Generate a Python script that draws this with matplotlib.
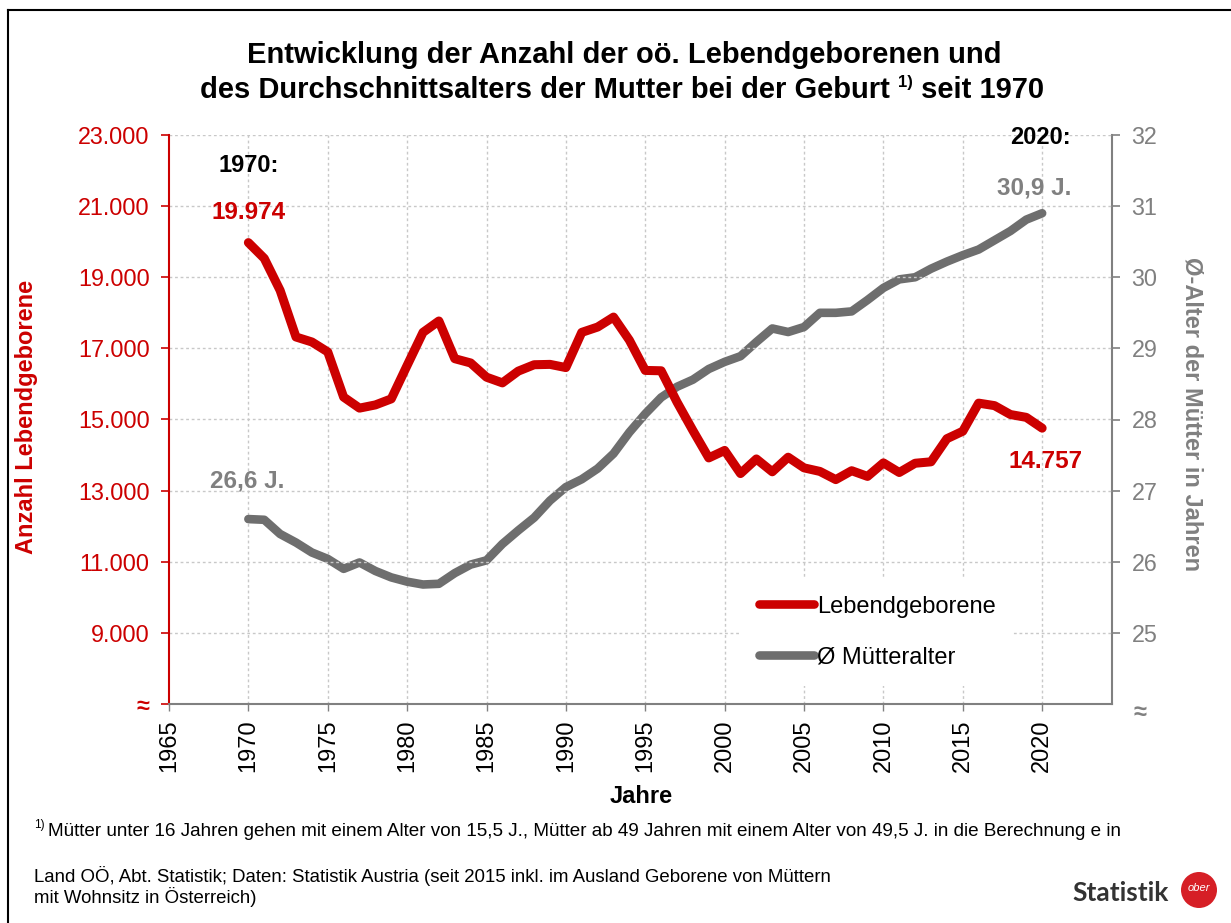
import matplotlib
matplotlib.use("Agg")
import matplotlib.pyplot as plt
from matplotlib.lines import Line2D
from matplotlib.patches import Ellipse
from matplotlib.ticker import FixedLocator, FixedFormatter

plt.rcParams['font.family'] = ['Liberation Sans', 'DejaVu Sans']

# ---------------- data ----------------
years = list(range(1970, 2021))
births = [19974, 19530, 18630, 17320, 17180, 16900, 15630, 15320, 15410, 15580,
          16520, 17450, 17770, 16710, 16590, 16190, 16030, 16360, 16540, 16550,
          16460, 17450, 17600, 17880, 17230, 16380, 16370, 15490, 14690, 13920,
          14130, 13480, 13890, 13530, 13940, 13640, 13540, 13310, 13560, 13400,
          13780, 13510, 13770, 13810, 14460, 14670, 15460, 15390, 15140, 15060,
          14757]
mother_age = [26.60, 26.59, 26.39, 26.27, 26.13, 26.04, 25.90, 25.99, 25.87, 25.78,
              25.72, 25.68, 25.69, 25.84, 25.96, 26.02, 26.25, 26.44, 26.62, 26.86,
              27.05, 27.16, 27.31, 27.52, 27.82, 28.08, 28.31, 28.46, 28.56, 28.71,
              28.81, 28.89, 29.09, 29.28, 29.23, 29.30, 29.50, 29.50, 29.52, 29.68,
              29.85, 29.97, 30.00, 30.12, 30.22, 30.31, 30.39, 30.52, 30.65, 30.81,
              30.90]
x_ticks = [1965, 1970, 1975, 1980, 1985, 1990, 1995, 2000, 2005, 2010, 2015, 2020]
left_ticks = [7000, 9000, 11000, 13000, 15000, 17000, 19000, 21000, 23000]
left_labels = ["≈", "9.000", "11.000", "13.000", "15.000", "17.000", "19.000", "21.000", "23.000"]
right_ticks = [25, 26, 27, 28, 29, 30, 31, 32]
right_labels = ["25", "26", "27", "28", "29", "30", "31", "32"]
series_names = ["Lebendgeborene", "Ø Mütteralter"]

RED = "#CC0000"
GRAY = "#6E6E6E"
LGRAY = "#808080"
W, H = 1231, 923

fig = plt.figure(figsize=(W / 100, H / 100), dpi=100)
fig.patch.set_facecolor("white")

def fx(px):
    return px / W

def fy(py):
    return 1 - py / H

ax = fig.add_axes([fx(169), fy(704), fx(1112) - fx(169), fy(135) - fy(704)])
ax2 = ax.twinx()

# lines
ln_gray, = ax2.plot(years, mother_age, color=GRAY, lw=6.2, solid_capstyle='round',
                    solid_joinstyle='round', label=series_names[1])
ln_red, = ax.plot(years, births, color=RED, lw=6.5, solid_capstyle='round',
                  solid_joinstyle='round', label=series_names[0])
ax.set_zorder(ax2.get_zorder() + 1)
ax.patch.set_visible(False)

ax.set_xlim(1965, 2024.4)
ax.set_ylim(7000, 23000)
ax2.set_ylim(24, 32)

# grid (drawn on ax2 so it stays underneath)
for xv in x_ticks[1:]:
    ax2.axvline(xv, color="#C8C8C8", lw=1.0, ls=(0, (2, 2)), zorder=0)
for yv in left_ticks[1:]:
    ax.axhline(yv, color="#C8C8C8", lw=1.0, ls=(0, (2, 2)), zorder=0)

# ticks
ax.xaxis.set_major_locator(FixedLocator(x_ticks))
ax.set_xticklabels([str(v) for v in x_ticks], rotation=90, fontsize=17)
ax.tick_params(axis='x', colors='black', length=5, width=1, color=LGRAY, pad=6)

ax.yaxis.set_major_locator(FixedLocator(left_ticks))
ax.yaxis.set_major_formatter(FixedFormatter(left_labels))
ax.tick_params(axis='y', colors=RED, labelsize=16.8, length=6, width=1.2, pad=8)
for lab in ax.get_yticklabels():
    if lab.get_text() == "≈":
        lab.set_fontweight('bold')

ax2.yaxis.set_major_locator(FixedLocator(right_ticks))
ax2.yaxis.set_major_formatter(FixedFormatter(right_labels))
ax2.tick_params(axis='y', colors=LGRAY, labelsize=16.8, length=6, width=1.2, pad=8)

for a in (ax, ax2):
    a.spines['top'].set_visible(False)
ax.spines['right'].set_visible(False)
ax2.spines['left'].set_visible(False)
ax.spines['left'].set_color(RED)
ax.spines['left'].set_linewidth(1.5)
ax2.spines['right'].set_color(LGRAY)
ax2.spines['right'].set_linewidth(1.5)
ax.spines['bottom'].set_color(LGRAY)
ax.spines['bottom'].set_linewidth(1.5)
ax2.spines['bottom'].set_visible(False)

# axis labels
ax.set_ylabel("Anzahl Lebendgeborene", color=RED, fontsize=17, fontweight='bold')
ax.yaxis.set_label_coords((38 - 169) / 943, 0.505)
ax2.set_ylabel("Ø-Alter der Mütter in Jahren", color=LGRAY, fontsize=17,
               fontweight='bold', rotation=270, va='center')
ax2.yaxis.set_label_coords((1192 - 169) / 943, 0.51)
ax.set_xlabel("Jahre", fontsize=17, fontweight='bold')
ax.xaxis.set_label_coords((641 - 169) / 943, (704 - 785) / 569)

# right "≈"
fig.text(fx(1140), fy(713), "≈", color=LGRAY, fontsize=17, fontweight='bold',
         ha='center', va='center')

# annotations
ax.text(1970, 22150, "1970:", fontsize=17, fontweight='bold', color='black', ha='center', va='center')
ax.text(1970, 20830, "19.974", fontsize=17.5, fontweight='bold', color=RED, ha='center', va='center')
ax2.text(1969.9, 27.13, "26,6 J.", fontsize=17.5, fontweight='bold', color=LGRAY, ha='center', va='center')
ax.text(2019.9, 22920, "2020:", fontsize=17, fontweight='bold', color='black', ha='center', va='center')
ax2.text(2019.5, 31.25, "30,9 J.", fontsize=17.5, fontweight='bold', color=LGRAY, ha='center', va='center')
ax.text(2020.2, 13820, "14.757", fontsize=17.5, fontweight='bold', color=RED, ha='center', va='center')

# legend
leg = ax.legend(handles=[ln_red, ln_gray], labels=series_names, loc='upper left',
                bbox_to_anchor=(fx(741), fy(578)), bbox_transform=fig.transFigure,
                fontsize=17, frameon=True, facecolor='white', edgecolor='none',
                framealpha=1, fancybox=False, handlelength=2.35, handletextpad=0.12,
                labelspacing=1.2, borderpad=0.75, borderaxespad=0)
for h in leg.legend_handles:
    h.set_linewidth(6.2)
    h.set_solid_capstyle('round')

# title
TFS = 21
fig.text(fx(624), fy(55), "Entwicklung der Anzahl der oö. Lebendgeborenen und",
         fontsize=TFS, fontweight='bold', ha='center', va='center')
renderer = fig.canvas.get_renderer()
p1 = fig.text(0, fy(90), "des Durchschnittsalters der Mutter bei der Geburt ",
              fontsize=TFS, fontweight='bold', ha='left', va='center')
p2 = fig.text(0, fy(82), "1)", fontsize=12, fontweight='bold', ha='left', va='center')
p3 = fig.text(0, fy(90), " seit 1970", fontsize=TFS, fontweight='bold', ha='left', va='center')
w1 = p1.get_window_extent(renderer).width
w2 = p2.get_window_extent(renderer).width
w3 = p3.get_window_extent(renderer).width
start = 622 - (w1 + w2 + w3) / 2
p1.set_x(fx(start))
p2.set_x(fx(start + w1))
p3.set_x(fx(start + w1 + w2))

# footnotes
fig.text(fx(34), fy(825), "1)", fontsize=8.5, ha='left', va='center')
fig.text(fx(48), fy(831), "Mütter unter 16 Jahren gehen mit einem Alter von 15,5 J., Mütter ab 49 Jahren "
         "mit einem Alter von 49,5 J. in die Berechnung e in", fontsize=13.6, ha='left', va='center')
fig.text(fx(34), fy(876), "Land OÖ, Abt. Statistik; Daten: Statistik Austria (seit 2015 inkl. im Ausland "
         "Geborene von Müttern", fontsize=13.4, ha='left', va='center')
fig.text(fx(34), fy(897), "mit Wohnsitz in Österreich)", fontsize=13.4, ha='left', va='center')

# logo
fig.text(fx(1121), fy(893), "Statistik", fontsize=19, fontweight='bold', color='#333333',
         ha='center', va='center', family=['Lato', 'DejaVu Sans'])
fig.add_artist(Ellipse((fx(1199), fy(890)), 36 / W, 36 / H, transform=fig.transFigure,
                       facecolor='#D61F26', edgecolor='none'))
fig.text(fx(1199), fy(888), "ober", fontsize=8, color='white', style='italic',
         ha='center', va='center')

# frame
fig.add_artist(Line2D([fx(8), fx(8)], [0, fy(10)], transform=fig.transFigure, color='black', lw=1.5))
fig.add_artist(Line2D([fx(8), 1], [fy(10), fy(10)], transform=fig.transFigure, color='black', lw=1.5))

fig.savefig("out.png", dpi=100, facecolor='white')
